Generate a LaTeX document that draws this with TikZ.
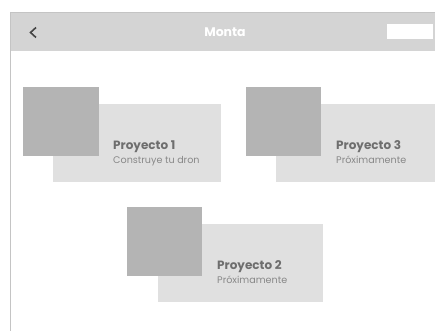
\documentclass[tikz,border=0pt]{standalone}
\usepackage{fontspec}
\setmainfont{Poppins}
\definecolor{hdr}{HTML}{D4D4D4}
\definecolor{hdrline}{HTML}{C4C4C4}
\definecolor{sq}{HTML}{B4B4B4}
\definecolor{card}{HTML}{E0E0E0}
\definecolor{ttl}{HTML}{6E6E6E}
\definecolor{sub}{HTML}{888888}
\definecolor{arr}{HTML}{454545}
\tikzset{
  sqbox/.style={fill=sq},
  cardbox/.style={fill=card},
  ttltext/.style={anchor=base west,inner sep=0pt,text=ttl,font=\fontsize{12}{14}\selectfont\bfseries},
  subtext/.style={anchor=base west,inner sep=0pt,text=sub,font=\fontsize{9.6}{11}\selectfont},
}
\begin{document}
\begin{tikzpicture}[x=1pt,y=-1pt]
\useasboundingbox (0,0) rectangle (435,331);
\fill[white] (0,0) rectangle (435,331);
% header
\fill[hdr] (10,12) rectangle (435,51);
\draw[hdrline,line width=0.8pt] (10,12.4) -- (435,12.4);
\draw[hdrline,line width=0.8pt] (10.5,12) -- (10.5,331);
\draw[arr,line width=1.6pt] (36,27.5) -- (30.5,32.5) -- (36,37.5);
\node[inner sep=0pt,text=white,font=\fontsize{12.5}{14}\selectfont\bfseries] (title) at (225,32) {Monta};
\fill[white] (387,24.5) rectangle (432.5,39.5);
% card 1
\fill[cardbox] (53,104) rectangle (221,182);
\fill[sqbox] (23,87) rectangle (99,156);
\node[ttltext] (p1) at (113,149.3) {Proyecto 1};
\node[subtext] (s1) at (113,163.3) {Construye tu dron};
% card 3
\fill[cardbox] (276,104) rectangle (435,182);
\fill[sqbox] (246,87) rectangle (321,156);
\node[ttltext] (p3) at (336,149.3) {Proyecto 3};
\node[subtext] (s3) at (336,163.3) {Próximamente};
% card 2
\fill[cardbox] (158,224) rectangle (323,302);
\fill[sqbox] (127,207) rectangle (202,276);
\node[ttltext] (p2) at (217,269.3) {Proyecto 2};
\node[subtext] (s2) at (217,283.3) {Próximamente};
\end{tikzpicture}
\end{document}
